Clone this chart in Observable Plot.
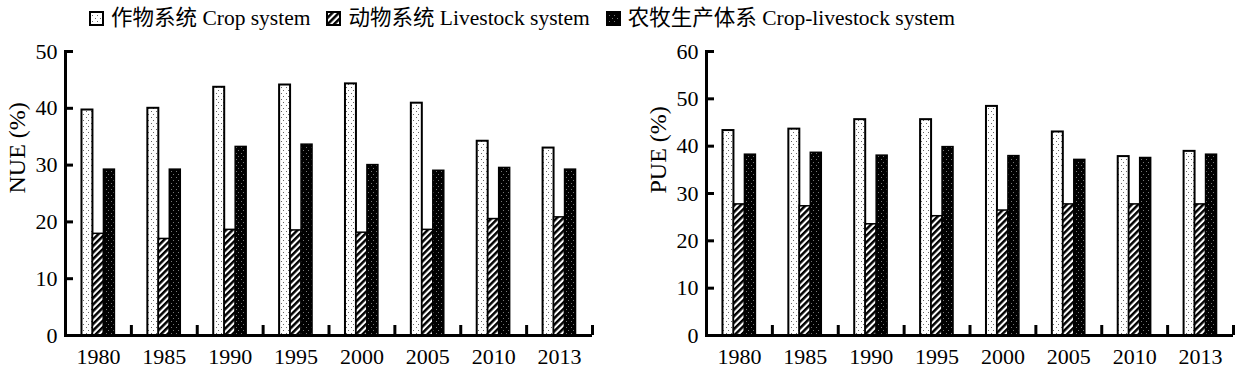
<!DOCTYPE html>
<html><head><meta charset="utf-8">
<script src="https://cdn.jsdelivr.net/npm/d3@7"></script>
<script src="https://cdn.jsdelivr.net/npm/@observablehq/plot@0.6"></script>
<style>
body{margin:0;background:#fff;width:1239px;height:371px;overflow:hidden;position:relative;font-family:"Liberation Serif","Noto Sans CJK SC",serif;}
#legend{position:absolute;left:89px;top:4px;display:flex;align-items:center;font-size:21.5px;color:#000;white-space:nowrap;line-height:28px;}
.item{display:flex;align-items:center;margin-right:16px}
.item svg{margin-right:7px;display:block}
#charts{position:absolute;left:0;top:38px;display:flex}
#charts svg{display:block}
</style></head><body>
<svg width="0" height="0" style="position:absolute;left:0;top:0">
<defs>
 <pattern id="pCrop" patternUnits="userSpaceOnUse" width="5" height="6">
  <rect width="5" height="6" fill="#fff"/>
  <rect x="1" y="1" width="1" height="1" fill="#666"/>
  <rect x="3" y="4" width="1" height="1" fill="#666"/>
 </pattern>
 <pattern id="pLive" patternUnits="userSpaceOnUse" width="4.6" height="5" patternTransform="rotate(45)">
  <rect width="4.6" height="5" fill="#fff"/>
  <rect x="0" y="0" width="2.5" height="5" fill="#000"/>
 </pattern>
 <pattern id="pCL" patternUnits="userSpaceOnUse" width="5" height="6">
  <rect width="5" height="6" fill="#000"/>
  <rect x="1" y="1" width="1" height="1" fill="#777"/>
  <rect x="3" y="4" width="1" height="1" fill="#777"/>
 </pattern>
</defs></svg>
<div id="legend"></div>
<div id="charts"></div>
<script>
// ---- data ----
const years = ["1980", "1985", "1990", "1995", "2000", "2005", "2010", "2013"];
const seriesNames = ["作物系统 Crop system", "动物系统 Livestock system", "农牧生产体系 Crop-livestock system"];
const nueCrop = [39.7, 40.0, 43.7, 44.1, 44.3, 40.9, 34.2, 33.0];
const nueLivestock = [17.9, 17.0, 18.6, 18.5, 18.1, 18.6, 20.5, 20.8];
const nueCropLivestock = [29.2, 29.2, 33.2, 33.6, 30.0, 29.0, 29.5, 29.2];
const pueCrop = [43.3, 43.6, 45.6, 45.6, 48.4, 43.0, 37.8, 38.9];
const pueLivestock = [27.7, 27.3, 23.5, 25.2, 26.4, 27.7, 27.7, 27.7];
const pueCropLivestock = [38.2, 38.6, 38.0, 39.8, 37.9, 37.1, 37.5, 38.2];
const nueTicks = [0, 10, 20, 30, 40, 50];
const pueTicks = [0, 10, 20, 30, 40, 50, 60];
const yLabels = ["NUE (%)", "PUE (%)"];

// ---- styles ----
const fills = ["url(#pCrop)", "url(#pLive)", "url(#pCL)"];
const strokeW = [2, 1.5, 1.5];

// legend
const legend = d3.select("#legend");
seriesNames.forEach((name, i) => {
  const it = legend.append("div").attr("class", "item");
  const s = it.append("svg").attr("width", 15).attr("height", 15);
  s.append("rect").attr("x", 1).attr("y", 1).attr("width", 13).attr("height", 13)
    .attr("fill", fills[i]).attr("stroke", "#000").attr("stroke-width", 2);
  it.append("span").text(name);
});

function chart(w, ml, mr, label, ticks, series) {
  const mt = 13, mb = 36, h = 333;
  const plotW = w - ml - mr, plotH = h - mt - mb;
  const bw = plotW / years.length;
  const rows = (vals) => years.map((y, i) => ({year: y, value: vals[i]}));
  const bars = series.map((vals, k) =>
    Plot.barY(rows(vals), {
      x: "year", y: "value",
      fill: fills[k], stroke: "#000", strokeWidth: strokeW[k],
      insetLeft: bw * (0.25 + k / 6),
      insetRight: bw * (1 - 0.25 - (k + 1) / 6)
    })
  );
  return Plot.plot({
    width: w, height: h,
    marginLeft: ml, marginRight: mr, marginTop: mt, marginBottom: mb,
    style: {fontFamily: "'Liberation Serif', serif", fontSize: "22px", color: "#000", background: "transparent"},
    x: {domain: years, padding: 0, round: false, axis: null, label: null},
    y: {domain: [0, ticks[ticks.length - 1]], axis: null, label: null},
    marks: [
      ...bars,
      Plot.ruleX(years, {x: d => d, dx: bw / 2, insetTop: plotH - 10, stroke: "#000", strokeWidth: 3}),
      Plot.tickY(ticks, {y: d => d, insetRight: plotW - 8, stroke: "#000", strokeWidth: 3}),
      Plot.axisY({ticks, tickSize: 0, tickPadding: 8, tickFormat: d => String(d), fontSize: 22, label: null}),
      Plot.axisX({tickSize: 0, tickPadding: 13, fontSize: 22, label: null}),
      Plot.ruleY([0], {stroke: "#000", strokeWidth: 3}),
      Plot.frame({anchor: "left", stroke: "#000", strokeWidth: 3}),
      Plot.text([label], {text: d => d, frameAnchor: "left", dx: -48, rotate: -90, fontSize: 24, fill: "#000"})
    ]
  });
}

const c = document.getElementById("charts");
c.append(chart(620, 65, 28, yLabels[0], nueTicks, [nueCrop, nueLivestock, nueCropLivestock]));
c.append(chart(619, 86, 6, yLabels[1], pueTicks, [pueCrop, pueLivestock, pueCropLivestock]));
</script>
</body></html>
